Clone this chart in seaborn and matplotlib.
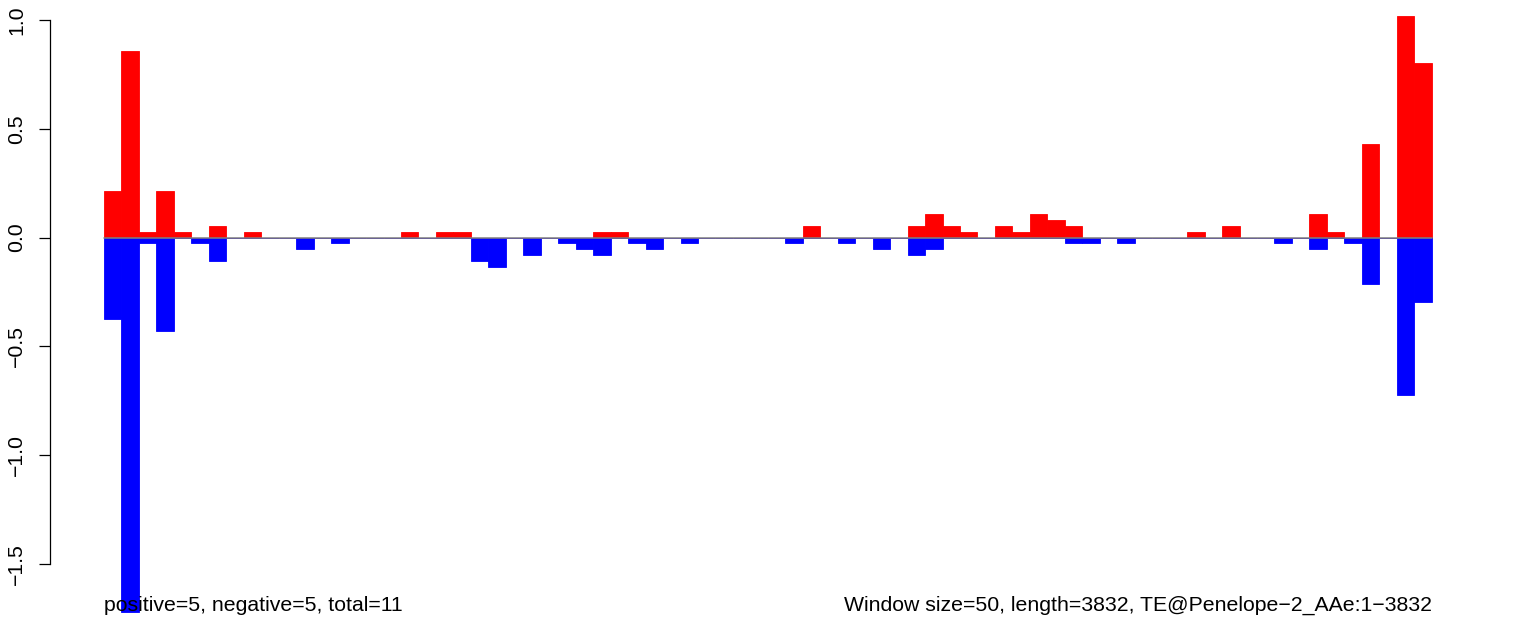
import pandas as pd
import seaborn as sns
import matplotlib.pyplot as plt

sns.set_style("white")
plt.rcParams['font.family'] = ['Liberation Sans', 'DejaVu Sans']
plt.rcParams['text.color'] = 'black'
plt.rcParams['ytick.color'] = 'black'

# one bar per 50 bp window along the TE (76 windows)
windows = list(range(76))

positive = [0.214, 0.858, 0.027, 0.214, 0.027, 0, 0.054, 0, 0.027, 0,
            0, 0, 0, 0, 0, 0, 0, 0.027, 0, 0.027,
            0.027, 0, 0, 0, 0, 0, 0, 0, 0.027, 0.027,
            0, 0, 0, 0, 0, 0, 0, 0, 0, 0,
            0.054, 0, 0, 0, 0, 0, 0.054, 0.107, 0.054, 0.027,
            0, 0.054, 0.027, 0.107, 0.080, 0.054, 0, 0, 0, 0,
            0, 0, 0.027, 0, 0.054, 0, 0, 0, 0, 0.107,
            0.027, 0, 0.429, 0, 1.02, 0.804]

negative = [-0.375, -1.72, -0.027, -0.429, 0, -0.027, -0.107, 0, 0, 0,
            0, -0.054, 0, -0.027, 0, 0, 0, 0, 0, 0,
            0, -0.107, -0.134, 0, -0.080, 0, -0.027, -0.054, -0.080, 0,
            -0.027, -0.054, 0, -0.027, 0, 0, 0, 0, 0, -0.027,
            0, 0, -0.027, 0, -0.054, 0, -0.080, -0.054, 0, 0,
            0, 0, 0, 0, 0, -0.027, -0.027, 0, -0.027, 0,
            0, 0, 0, 0, 0, 0, 0, -0.027, 0, -0.054,
            0, -0.027, -0.214, 0, -0.724, -0.295]

left_note = "positive=5, negative=5, total=11"
right_note = "Window size=50, length=3832, TE@Penelope\u22122_AAe:1\u22123832"

df = pd.DataFrame({"window": windows, "positive": positive, "negative": negative})

fig = plt.figure(figsize=(15.33, 6.34), dpi=100)
ax = fig.add_axes([50 / 1533, 0, 1435 / 1533, 1])

sns.barplot(data=df, x="window", y="positive", color="red", saturation=1, width=1,
            native_scale=True, errorbar=None, linewidth=0.6, edgecolor="red", ax=ax)
sns.barplot(data=df, x="window", y="negative", color="blue", saturation=1, width=1,
            native_scale=True, errorbar=None, linewidth=0.6, edgecolor="blue", ax=ax)

ax.plot([-0.5, len(windows) - 0.5], [0, 0], color="grey", lw=1.1, zorder=3)

ax.set_xlim(-3.591, 78.55)
ax.set_ylim(-1.823, 1.092)
ax.set_xlabel('')
ax.set_ylabel('')
ax.set_xticks([])

for s in ['top', 'right', 'bottom']:
    ax.spines[s].set_visible(False)
ax.spines['left'].set_bounds(-1.5, 1.0)
ax.spines['left'].set_linewidth(0.9)
ax.spines['left'].set_color('black')

yt = [-1.5, -1.0, -0.5, 0.0, 0.5, 1.0]
ax.set_yticks(yt)
ax.set_yticklabels([f"{v:.1f}".replace('-', '\u2212') for v in yt], rotation=90, va='center')
ax.tick_params(axis='y', direction='out', length=8, width=0.9, pad=9, labelsize=15.3,
               left=True, color='black', labelcolor='black')

trans = ax.get_xaxis_transform()
ax.text(-0.5, 0.0363, left_note, transform=trans, ha='left', va='baseline', fontsize=15.3,
        color='black', zorder=5)
ax.text(len(windows) - 0.5, 0.0363, right_note, transform=trans, ha='right', va='baseline',
        fontsize=15.3, color='black', zorder=5)

fig.savefig("out.png", dpi=100)
